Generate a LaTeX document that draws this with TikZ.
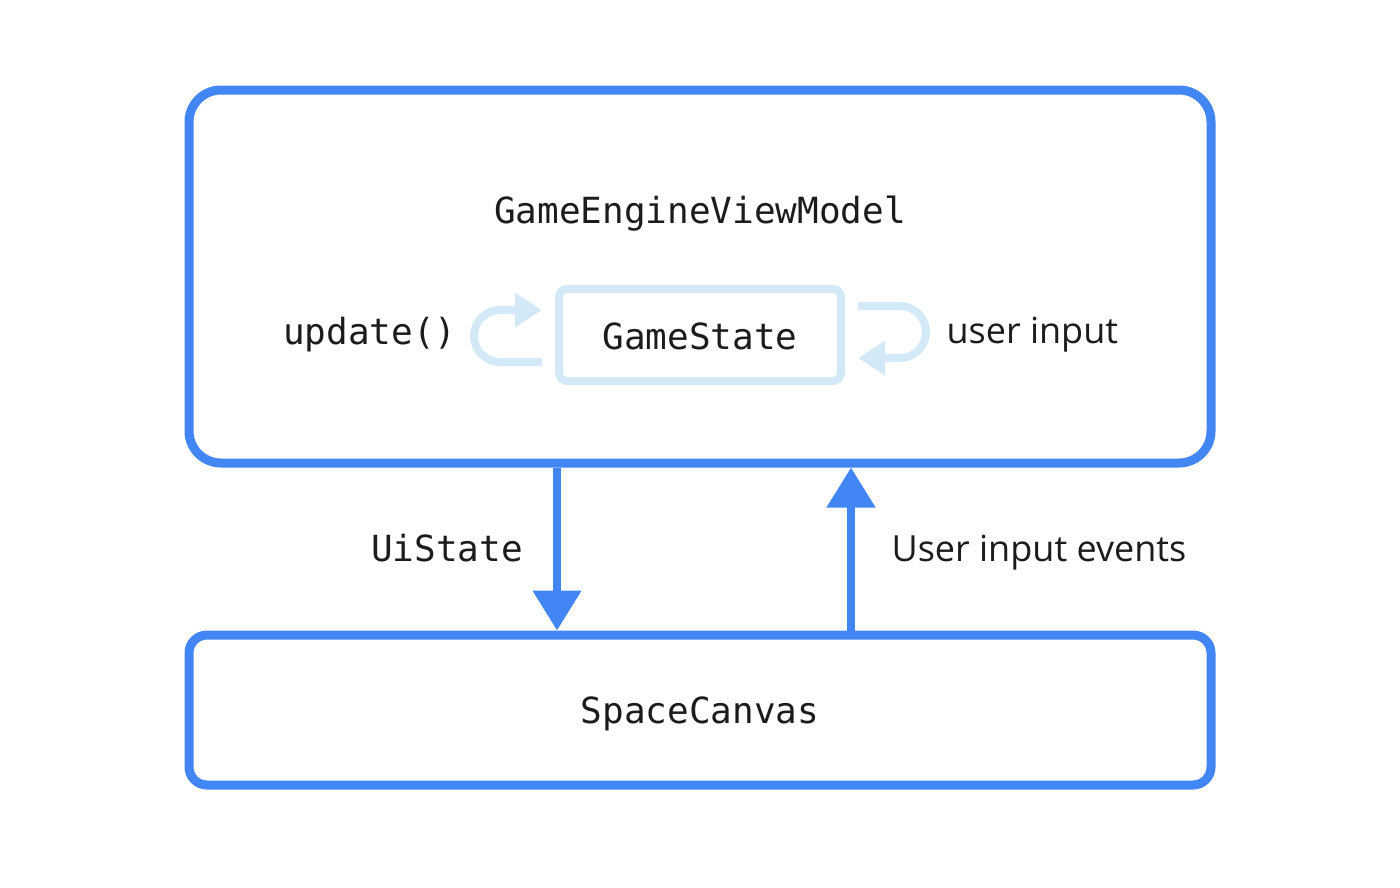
\documentclass[tikz,border=0pt]{standalone}
\usepackage{fontspec}
\setmonofont{DejaVu Sans Mono}
\setsansfont{Open Sans}
\usetikzlibrary{arrows.meta,positioning}

\definecolor{vmblue}{RGB}{66,133,244}
\definecolor{stateblue}{RGB}{212,233,248}
\definecolor{inkblack}{RGB}{28,28,30}

\tikzset{
    codetext/.style={text=inkblack, font=\fontsize{36}{43}\selectfont\ttfamily},
    plaintext/.style={text=inkblack, font=\fontsize{36}{43}\selectfont\sffamily},
    bigbox/.style={draw=vmblue, line width=9pt, rounded corners=32pt, inner sep=0pt},
    statebox/.style={draw=stateblue, line width=8pt, rounded corners=8pt, inner sep=0pt},
    flow/.style={draw=vmblue, line width=8pt, -{Triangle[length=40pt,width=47pt]}},
    cycle/.style={draw=stateblue, line width=8pt, -{Triangle[length=27pt,width=33pt]}}
}

\begin{document}
\begin{tikzpicture}[x=1pt, y=-1pt]
            \useasboundingbox (0,0) rectangle (1400,887);

            % View model with its inner state
            \node [bigbox, minimum width=1022pt, minimum height=373pt] (vm) at (700,276.5) {};
            \node [codetext] (vmname) at (700,214) {GameEngineViewModel};
            \node [statebox, minimum width=282pt, minimum height=92pt] (gs) at (700,335) {};
            \node [codetext] (gsname) at ([yshift=-1pt]gs.center) {GameState};

            % Update loop on the left, input loop on the right
            \draw [cycle] ([xshift=-13pt, yshift=-27pt]gs.west) -- ++(-42,0)
                arc [start angle=90, end angle=270, radius=26] -- ([xshift=-13pt, yshift=25pt]gs.west);
            \draw [cycle] ([xshift=13pt, yshift=29pt]gs.east) -- ++(42,0)
                arc [start angle=-90, end angle=90, radius=26] -- ([xshift=13pt, yshift=-23pt]gs.east);
            \node [codetext, anchor=east] (upd) at (460,335) {update()};
            \node [plaintext, anchor=west] (inp) at (943,335) {user input};

            % Canvas below
            \node [bigbox, rounded corners=18pt, minimum width=1022pt, minimum height=150pt] (canvas) at (700,710) {};
            \node [codetext] (cvname) at ([yshift=-4pt]canvas.center) {SpaceCanvas};

            % State goes down, events go up
            \draw [flow] ([xshift=2pt]vm.south -| gs.west) -- ([xshift=2pt]canvas.north -| gs.west);
            \draw [flow] ([xshift=6pt]canvas.north -| gs.east) -- ([xshift=6pt]vm.south -| gs.east);
            \node [codetext] (ui) at (447,548) {UiState};
            \node [plaintext, anchor=west] (ev) at (888,553) {User input events};
        \end{tikzpicture}
\end{document}
